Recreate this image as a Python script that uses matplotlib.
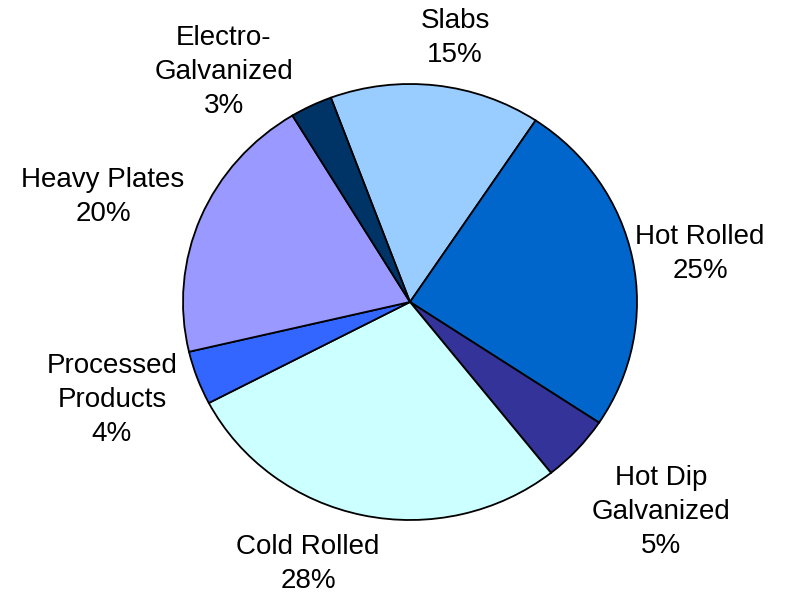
import matplotlib.pyplot as plt

plt.rcParams["font.family"] = ["Liberation Sans", "DejaVu Sans"]

categories = ["Slabs", "Hot Rolled", "Hot Dip\nGalvanized", "Cold Rolled",
              "Processed\nProducts", "Heavy Plates", "Electro-\nGalvanized"]
shares = [15, 25, 5, 28, 4, 20, 3]
colors = ["#99CCFF", "#0066CC", "#333399", "#CCFFFF", "#3366FF", "#9999FF", "#003366"]

# label centres in pixels (x from left, y from top)
label_pos = [(455, 38), (700, 254), (661, 512), (308, 564),
             (112, 400), (103, 197), (224, 72)]

W, H = 796, 598
fig = plt.figure(figsize=(W / 100, H / 100), dpi=100)
# pie area: centre (410, 302), radii 227 x 218 px
ax = fig.add_axes([183 / W, (H - 520) / H, 454 / W, 436 / H])

ax.pie(shares, colors=colors, startangle=110.4, counterclock=False,
       wedgeprops={"edgecolor": "black", "linewidth": 1.3})
ax.set_aspect("auto")
ax.set_xlim(-1, 1)
ax.set_ylim(-1, 1)

for name, val, (px, py) in zip(categories, shares, label_pos):
    fig.text(px / W, 1 - py / H, f"{name}\n{val}%", ha="center", va="center",
             fontsize=20, linespacing=1.42)

plt.savefig("out.png", dpi=100)
